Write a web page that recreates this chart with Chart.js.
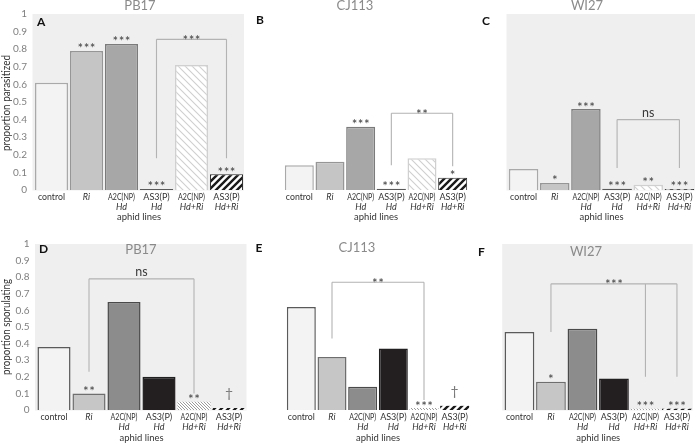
<!DOCTYPE html>
<html><head><meta charset="utf-8">
<script src="https://cdn.jsdelivr.net/npm/chart.js@4.4.1/dist/chart.umd.min.js"></script>
<style>
html,body{margin:0;padding:0;background:#fff;width:696px;height:444px;overflow:hidden}
canvas{position:absolute;left:0;top:0}
</style></head><body>
<script>
// ---------- data ----------
const categories = ['control','Ri','A2C(NP)','AS3(P)','A2C(NP)','AS3(P)'];
const categorySub = ['','','Hd','Hd','Hd+Ri','Hd+Ri'];
const mainItalic = [false,true,false,false,false,false];
const yTickLabels = ['0','0.1','0.2','0.3','0.4','0.5','0.6','0.7','0.8','0.9','1'];

const parasitizedPB17  = [0.61,0.79,0.83,0.006,0.71,0.09];
const parasitizedCJ113 = [0.14,0.16,0.36,0.006,0.18,0.07];
const parasitizedWI27  = [0.12,0.04,0.46,0.006,0.03,0.006];
const sporulatingPB17  = [0.38,0.10,0.65,0.20,0.05,0.012];
const sporulatingCJ113 = [0.62,0.32,0.14,0.37,0.012,0.025];
const sporulatingWI27  = [0.47,0.17,0.49,0.19,0.007,0.008];

const starsA = ['','***','***','***','','***'];
const starsB = ['','','***','***','','*'];
const starsC = ['','*','***','***','**','***'];
const starsD = ['','**','','','**','†'];
const starsE = ['','','','','***','†'];
const starsF = ['','*','','','***','***'];

// bracket: from/to category, top value, drops [category, value], label
const bracketA = {from:3,to:5,top:0.856,drops:[[3,0.18],[5,0.18]],label:'***'};
const bracketB = {from:3,to:5,top:0.436,drops:[[3,0.14],[5,0.135]],label:'**'};
const bracketC = {from:3,to:5,top:0.40,drops:[[3,0.125],[5,0.125]],label:'ns'};
const bracketD = {from:1,to:4,top:0.79,drops:[[1,0.23],[4,0.10]],label:'ns'};
const bracketE = {from:1,to:4,top:0.77,drops:[[1,0.43],[4,0.06]],label:'**'};
const bracketF = {from:1,to:5,top:0.76,drops:[[1,0.47],[4,0.2],[5,0.2]],label:'***'};

// ---------- patterns ----------
function hatch(size, color, lw, dir){
  const c = document.createElement('canvas'); c.width=size; c.height=size;
  const g = c.getContext('2d');
  g.fillStyle='#ffffff'; g.fillRect(0,0,size,size);
  g.strokeStyle=color; g.lineWidth=lw; g.lineCap='square';
  g.beginPath();
  if(dir==='/'){
    g.moveTo(-1,size+1); g.lineTo(size+1,-1);
    g.moveTo(-1,1); g.lineTo(1,-1);
    g.moveTo(size-1,size+1); g.lineTo(size+1,size-1);
  } else {
    g.moveTo(-1,-1); g.lineTo(size+1,size+1);
    g.moveTo(size-1,-1); g.lineTo(size+1,1);
    g.moveTo(-1,size-1); g.lineTo(1,size+1);
  }
  g.stroke();
  return document.createElement('canvas').getContext('2d').createPattern(c,'repeat');
}
const hatchLight = hatch(7,'#cfcfcf',1.1,'\\');
const hatchDense = hatch(3,'#8f8f8f',0.9,'\\');
const hatchDark  = hatch(7,'#1a1a1a',2.4,'/');

const topFill    = ['#f3f3f3','#c5c5c5','#a7a7a7','#5a5a5a',hatchLight,hatchDark];
const topBorder  = ['#a9a9a9','#969696','#7b7b7b','#5a5a5a','#d0d0d0','#2a2a2a'];
const topBW      = [1.5,1.5,1.5,0,1.5,1];
const botFill    = ['#f3f3f3','#c6c6c6','#8c8c8c','#231f20',hatchDense,hatchDark];
const botBorder  = ['#5a5a5a','#6e6e6e','#4a4a4a','#231f20','#bdbdbd','#2a2a2a'];
const botBW      = [1.5,1.5,1.5,1.5,0,0];

const FONT = 'Lato';
const STARFONT = '"DejaVu Sans"';

const panels = [
 {id:'A',data:parasitizedPB17,stars:starsA,br:bracketA,row:0,left:34,right:244,top:14,bottom:190,grey:true,yAxis:true,
  title:'PB17',tx:140,ty:6,lx:37,ly:22,ytitle:'proportion parasitized',yty:103},
 {id:'B',data:parasitizedCJ113,stars:starsB,br:bracketB,row:0,left:256,right:468,top:14,bottom:190,grey:false,
  title:'CJ113',tx:355,ty:6,lx:256,ly:20},
 {id:'C',data:parasitizedWI27,stars:starsC,br:bracketC,row:0,left:480,right:695,top:14,bottom:190,grey:true,
  title:'WI27',tx:587,ty:6,lx:482,ly:21},
 {id:'D',data:sporulatingPB17,stars:starsD,br:bracketD,row:1,left:36.5,right:246.5,top:244,bottom:410,grey:true,yAxis:true,
  title:'PB17',tx:141,ty:249.5,lx:39,ly:249.5,ytitle:'proportion sporulating',yty:327},
 {id:'E',data:sporulatingCJ113,stars:starsE,br:bracketE,row:1,left:258,right:470,top:244,bottom:410,grey:false,
  title:'CJ113',tx:357,ty:248,lx:255.5,ly:248},
 {id:'F',data:sporulatingWI27,stars:starsF,br:bracketF,row:1,left:475.7,right:692.7,top:244,bottom:410,grey:true,
  title:'WI27',tx:586,ty:252,lx:478,ly:252.5}
];

function drawStars(ctx,s,x,y){
  ctx.font='bold 8px '+STARFONT;
  ctx.letterSpacing='2px';
  ctx.fillText(s,x+1,y);
  ctx.letterSpacing='0px';
}

function annot(p){
  return {
    id:'annot'+p.id,
    beforeDatasetsDraw(chart){
      if(!p.grey) return;
      const a=chart.chartArea, ctx=chart.ctx;
      ctx.save(); ctx.fillStyle='#efefef';
      ctx.fillRect(a.left-1.5,a.top,a.right-a.left+1.5,a.bottom-a.top+0.5);
      ctx.restore();
    },
    afterDatasetsDraw(chart){
      const ctx=chart.ctx, xs=chart.scales.x, ys=chart.scales.y;
      ctx.save();
      ctx.textAlign='center';
      // category labels
      ctx.fillStyle='#333333';
      ctx.textBaseline='middle';
      categories.forEach((c,i)=>{
        const cx=xs.getPixelForValue(i);
        ctx.font=(mainItalic[i]?'italic ':'')+'9px '+FONT;
        ctx.fillText(c,cx,ys.bottom+7.5,27);
        if(categorySub[i]){
          ctx.font='italic 9px '+FONT;
          ctx.fillText(categorySub[i],cx,ys.bottom+17.5,24);
        }
      });
      ctx.font='9.5px '+FONT;
      ctx.fillText('aphid lines',(xs.left+xs.right)/2,ys.bottom+(p.row===0?26.5:28),44);
      // stars above bars
      p.stars.forEach((s,i)=>{
        if(!s) return;
        const cx=xs.getPixelForValue(i), top=ys.getPixelForValue(p.data[i]);
        ctx.fillStyle='#555555';
        ctx.textBaseline='alphabetic';
        if(s==='†'){
          ctx.font='14px '+FONT; ctx.fillStyle='#777777';
          ctx.fillText(s,cx,top-10);
        } else {
          drawStars(ctx,s,cx,top-0.5);
        }
      });
      // bracket
      const b=p.br;
      if(b){
        const x1=xs.getPixelForValue(b.from), x2=xs.getPixelForValue(b.to), yt=ys.getPixelForValue(b.top);
        ctx.strokeStyle='#b3b3b3'; ctx.lineWidth=1.1;
        ctx.beginPath();
        ctx.moveTo(x1,yt); ctx.lineTo(x2,yt);
        b.drops.forEach(([i,v])=>{const dx=xs.getPixelForValue(i); ctx.moveTo(dx,yt); ctx.lineTo(dx,ys.getPixelForValue(v));});
        ctx.stroke();
        ctx.textBaseline='alphabetic';
        if(b.label==='ns'){
          ctx.font='12.5px '+FONT; ctx.fillStyle='#3a3a3a';
          ctx.fillText(b.label,(x1+x2)/2,yt-3);
        } else {
          ctx.fillStyle='#555555';
          drawStars(ctx,b.label,(x1+x2)/2,yt+2.5);
        }
      }
      // titles, letters
      ctx.textBaseline='middle';
      ctx.font='13px '+FONT; ctx.fillStyle='#8a8a8a';
      ctx.fillText(p.title,p.tx,p.ty);
      ctx.textAlign='left';
      ctx.font='bold 12px '+FONT; ctx.fillStyle='#111111';
      ctx.fillText(p.id,p.lx,p.ly);
      if(p.ytitle){
        ctx.save();
        ctx.translate(6,p.yty); ctx.rotate(-Math.PI/2);
        ctx.textAlign='center'; ctx.textBaseline='middle';
        ctx.font='11.5px '+FONT; ctx.fillStyle='#333333';
        ctx.fillText(p.ytitle,0,0,96);
        ctx.restore();
      }
      ctx.restore();
    }
  };
}

panels.forEach(p=>{
  const cv=document.createElement('canvas');
  cv.width=696; cv.height=444;
  document.body.appendChild(cv);
  const isTop=p.row===0;
  const yW=28;
  new Chart(cv,{
    type:'bar',
    data:{labels:categories,datasets:[{
      data:p.data,
      backgroundColor:isTop?topFill:botFill,
      borderColor:isTop?topBorder:botBorder,
      borderWidth:isTop?topBW:botBW,
      categoryPercentage:1, barPercentage:0.945
    }]},
    options:{
      responsive:false, animation:false, devicePixelRatio:1,
      layout:{padding:{left:p.yAxis?p.left-yW:p.left,right:696-p.right,top:p.top,bottom:444-p.bottom}},
      plugins:{legend:{display:false},tooltip:{enabled:false},title:{display:false}},
      scales:{
        x:{display:false,offset:true},
        y:{display:!!p.yAxis,min:0,max:1,
           afterFit(s){s.width=yW;},
           grid:{display:false,drawTicks:false},border:{display:false},
           ticks:{stepSize:0.1,padding:7,color:'#7f7f7f',font:{family:FONT,size:10},
                  callback:(v,i)=>yTickLabels[i]}}
      }
    },
    plugins:[annot(p)]
  });
});
</script>
</body></html>
